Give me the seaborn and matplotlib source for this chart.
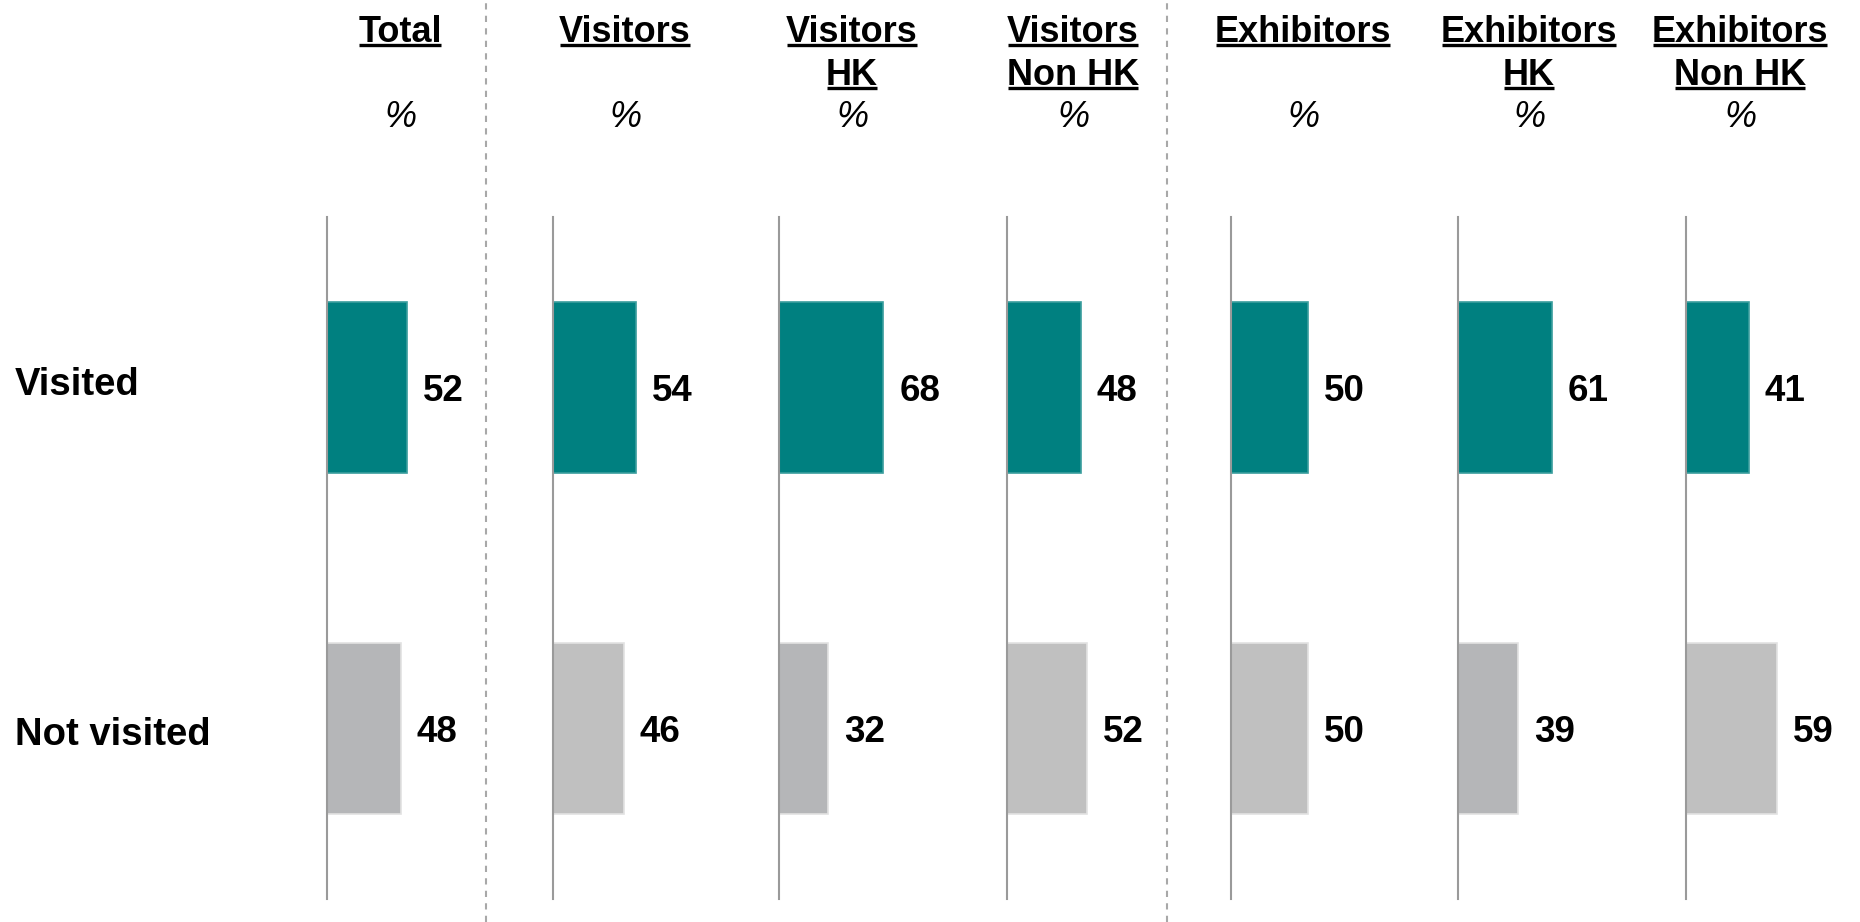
import matplotlib
matplotlib.use("Agg")
import matplotlib.pyplot as plt
from matplotlib.lines import Line2D
import numpy as np
import pandas as pd
import seaborn as sns

# ---- data ----
groups = ["Total", "Visitors", "Visitors\nHK", "Visitors\nNon HK",
          "Exhibitors", "Exhibitors\nHK", "Exhibitors\nNon HK"]
categories = ["Visited", "Not visited"]
visited = [52, 54, 68, 48, 50, 61, 41]
not_visited = [48, 46, 32, 52, 50, 39, 59]

# ---- styling ----
TEAL = "#008080"
GREY_DARK = "#B5B6B8"
GREY_LIGHT = "#C0C0C0"
not_visited_colors = [GREY_DARK, GREY_LIGHT, GREY_DARK, GREY_LIGHT,
                      GREY_LIGHT, GREY_DARK, GREY_LIGHT]

W, H = 1860, 922
sns.set_theme(style="white")
plt.rcParams["font.family"] = ["Liberation Sans", "DejaVu Sans"]

fig = plt.figure(figsize=(W / 100, H / 100), dpi=100)
fig.patch.set_facecolor("white")

# panel geometry in pixels
axis_x = [327, 553, 779, 1007, 1231, 1458, 1686]
header_cx = [400, 625, 852, 1073, 1303, 1529, 1740]
panel_top, panel_bottom = 217, 899
panel_w = 170
px_per_unit = 1.535
FS_HEAD = 26
FS_ROW = 27.5
FS_VAL = 26.5

for i, grp in enumerate(groups):
    ax = fig.add_axes([axis_x[i] / W, 1 - panel_bottom / H,
                       panel_w / W, (panel_bottom - panel_top) / H])
    ax.set_facecolor("none")
    vals = [visited[i], not_visited[i]]
    df = pd.DataFrame({"category": categories, "value": vals})
    sns.barplot(data=df, x="value", y="category", hue="category",
                palette=[TEAL, not_visited_colors[i]], orient="h",
                width=0.5, legend=False, ax=ax, saturation=1)
    for cont, ec in zip(ax.containers, ["#3a9d9d", "#E2E2E2"]):
        for p in cont:
            p.set_edgecolor(ec)
            p.set_linewidth(1.2)
    for k, v in enumerate(vals):
        ax.annotate(f"{v}", xy=(v, k), xytext=(11.5, 0),
                    textcoords="offset points", fontsize=FS_VAL,
                    fontweight="bold", color="black",
                    ha="left", va="center_baseline")
    ax.set_xlim(0, panel_w / px_per_unit)
    ax.set_ylim(1.5, -0.5)
    ax.set_xlabel("")
    ax.set_ylabel("")
    ax.set_xticks([])
    ax.set_yticks([])
    for s in ["top", "right", "bottom"]:
        ax.spines[s].set_visible(False)
    ax.spines["left"].set_color("#9A9A9A")
    ax.spines["left"].set_linewidth(1.5)

# row labels
for lab, base in zip(categories, [395, 745]):
    fig.text(15 / W, 1 - base / H, lab, fontsize=FS_ROW, fontweight="bold",
             ha="left", va="baseline", color="black")

# column headers, each line underlined
fig.canvas.draw()
renderer = fig.canvas.get_renderer()
line_baselines = [42, 85]
for i, grp in enumerate(groups):
    for j, line in enumerate(grp.split("\n")):
        t = fig.text(header_cx[i] / W, 1 - line_baselines[j] / H, line,
                     fontsize=FS_HEAD, fontweight="bold", ha="center",
                     va="baseline", color="black")
        bb = t.get_window_extent(renderer)
        uy = 1 - (line_baselines[j] + 3) / H
        fig.add_artist(Line2D([(bb.x0 + 1) / W, (bb.x1 - 1) / W], [uy, uy],
                              transform=fig.transFigure, color="black",
                              lw=2.4, solid_capstyle="butt"))
    fig.text(header_cx[i] / W, 1 - 127 / H, "%", fontsize=FS_HEAD,
             fontstyle="italic", ha="center", va="baseline", color="black")

# dashed separators between the groups
for sx in [486, 1167]:
    fig.add_artist(Line2D([sx / W, sx / W], [0, 1], transform=fig.transFigure,
                          color="#A8A8A8", lw=1.5, ls=(0, (3, 3))))

fig.savefig("out.png", dpi=100, facecolor="white")
